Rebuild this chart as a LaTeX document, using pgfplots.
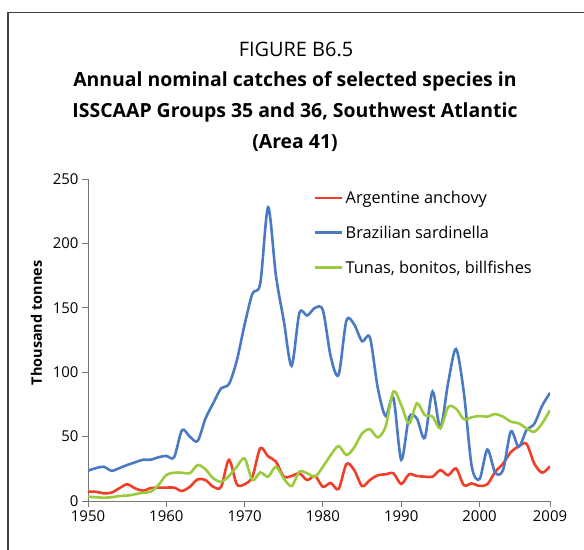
\documentclass[border=0pt]{standalone}
\usepackage{fontspec}
\setmainfont{Open Sans}
\usepackage{pgfplots}
\pgfplotsset{compat=1.18}
\definecolor{cred}{RGB}{240,62,40}
\definecolor{cblue}{RGB}{74,122,196}
\definecolor{cgreen}{RGB}{155,202,60}
\definecolor{axgray}{RGB}{120,120,120}
\definecolor{framegray}{RGB}{64,64,64}
\begin{document}
\begin{tikzpicture}[x=1bp,y=1bp]
\useasboundingbox (0,0) rectangle (584,-550);
\draw[line width=1.5bp, framegray] (8,-550) -- (8,-12.5) -- (584,-12.5);
\node[anchor=base, font=\fontsize{20}{22}\selectfont] at (296,-57) {FIGURE B6.5};
\node[anchor=base, font=\fontsize{19.5}{21}\selectfont\bfseries] at (295,-87) {Annual nominal catches of selected species in};
\node[anchor=base, font=\fontsize{19.5}{21}\selectfont\bfseries] at (295,-118) {ISSCAAP Groups 35 and 36, Southwest Atlantic};
\node[anchor=base, font=\fontsize{19.5}{21}\selectfont\bfseries] at (295,-149) {(Area 41)};
\begin{axis}[
  at={(88bp,-501bp)}, anchor=south west,
  scale only axis, width=462bp, height=322bp,
  xmin=1950, xmax=2009, ymin=0, ymax=250,
  axis x line*=bottom, axis y line*=left,
  axis line style={axgray, line width=1bp, -},
  xtick={1950,1960,1970,1980,1990,2000,2009},
  xticklabels={1950,1960,1970,1980,1990,2000,2009},
  ytick={0,50,100,150,200,250},
  tick align=outside, major tick length=6bp,
  tick style={axgray, line width=1bp},
  /pgf/number format/assume math mode=true,
  tick label style={font=\fontsize{15}{17}\selectfont},
  ylabel={Thousand tonnes},
  ylabel style={font=\fontsize{14.5}{16}\selectfont\bfseries, at={(axis description cs:-0.1115,0.553)}, anchor=center},
  legend style={draw=none, fill=none, at={(0.489,0.970)}, anchor=north west,
    font=\fontsize{16.4}{18}\selectfont, row sep=17bp, inner sep=0pt},
  legend cell align=left,
  legend image code/.code={\draw[#1] (0bp,0bp) -- (27bp,0bp);},
]
\addplot[cred, line width=2.6bp, smooth, tension=0.5] coordinates {
(1950,7.2)(1951,7.2)(1952,6)(1953,6.5)(1954,9.9)(1955,13)(1956,9.9)(1957,8)(1958,10)(1959,10.4)
(1960,10.4)(1961,10.4)(1962,7.8)(1963,11)(1964,16.8)(1965,16.3)(1966,11)(1967,11)(1968,32)(1969,13)
(1970,13)(1971,19)(1972,41)(1973,34.6)(1974,30.6)(1975,19)(1976,19.4)(1977,21.5)(1978,16.3)(1979,19.4)
(1980,11)(1981,14)(1982,9.3)(1983,28.7)(1984,24)(1985,11.6)(1986,16.3)(1987,20)(1988,20.7)(1989,21.5)
(1990,13.2)(1991,20.7)(1992,19.4)(1993,18.9)(1994,18.9)(1995,24)(1996,20)(1997,25.3)(1998,12.3)(1999,13.6)
(2000,11.7)(2001,13)(2002,22.6)(2003,29)(2004,38)(2005,42.4)(2006,44.4)(2007,29)(2008,22)(2009,27)
};
\addlegendentry{Argentine anchovy}
\addplot[cblue, line width=2.6bp, smooth, tension=0.5] coordinates {
(1950,23.5)(1951,25.5)(1952,26.6)(1953,23.5)(1954,25.5)(1955,28)(1956,30)(1957,32)(1958,32)(1959,34)
(1960,35)(1961,34)(1962,55)(1963,50)(1964,46.6)(1965,64)(1966,76)(1967,87.5)(1968,90.8)(1969,109)
(1970,137)(1971,161)(1972,169)(1973,228)(1974,175)(1975,140)(1976,105)(1977,146)(1978,144)(1979,150)
(1980,148)(1981,112)(1982,98)(1983,140)(1984,137)(1985,124)(1986,127)(1987,88)(1988,66)(1989,80)
(1990,32)(1991,65)(1992,64)(1993,49)(1994,85)(1995,57)(1996,92)(1997,118)(1998,84)(1999,27)
(2000,17)(2001,40)(2002,22)(2003,24)(2004,54)(2005,42)(2006,55)(2007,60)(2008,74)(2009,84)
};
\addlegendentry{Brazilian sardinella}
\addplot[cgreen, line width=2.6bp, smooth, tension=0.5] coordinates {
(1950,3.4)(1951,2.9)(1952,2.6)(1953,2.9)(1954,3.9)(1955,4.2)(1956,5.2)(1957,6.5)(1958,7.2)(1959,12.4)
(1960,20.2)(1961,22)(1962,22)(1963,21.5)(1964,27.9)(1965,24.6)(1966,17.6)(1967,15)(1968,19.4)(1969,26.6)
(1970,33)(1971,16.3)(1972,22.2)(1973,18.9)(1974,26.6)(1975,17.6)(1976,11.6)(1977,22.8)(1978,21.5)(1979,18.9)
(1980,26.6)(1981,35.7)(1982,42.7)(1983,35.7)(1984,41.6)(1985,52.5)(1986,55.7)(1987,49.4)(1988,57.7)(1989,85)
(1990,74.5)(1991,60)(1992,75.8)(1993,66.8)(1994,65.5)(1995,56.4)(1996,73)(1997,71.7)(1998,63.5)(1999,65)
(2000,66)(2001,65.5)(2002,67.5)(2003,65.5)(2004,61.6)(2005,60.3)(2006,56.4)(2007,53.8)(2008,60.3)(2009,70.6)
};
\addlegendentry{Tunas, bonitos, billfishes}
\end{axis}
\end{tikzpicture}
\end{document}
